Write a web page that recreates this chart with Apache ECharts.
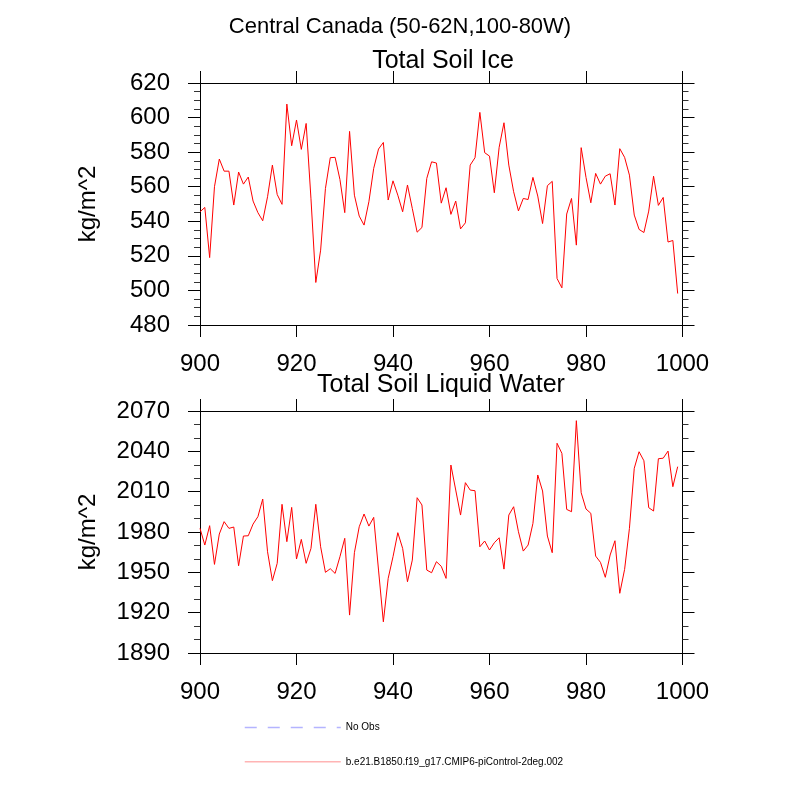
<!DOCTYPE html>
<html>
<head>
<meta charset="utf-8">
<script src="https://cdn.jsdelivr.net/npm/echarts@6/dist/echarts.min.js"></script>
<style>
  html, body { margin: 0; padding: 0; background: #fff; }
  #chart { width: 800px; height: 800px; }
</style>
</head>
<body>
<div id="chart"></div>
<script>
// years 900..999, one value per year
var years = [];
for (var y = 900; y <= 999; y++) years.push(y);

var soilIce = [
  545.5, 548, 519, 560, 576, 569, 569, 549.4, 568.5, 561.5,
  565.6, 551.7, 545, 540.3, 554.2, 572.5, 555.5, 549.8, 607.8, 583.7,
  598.6, 581.6, 596.6, 553, 504.6, 523.3, 559, 576.8, 577, 564.2,
  545, 592, 555.1, 543, 537.8, 551.3, 570.6, 581.8, 585.6, 552.3,
  563.4, 555.1, 545.5, 561, 547.4, 533.7, 536.4, 564.8, 574.4, 573.7,
  550.5, 559.4, 544, 551.7, 535.6, 539.1, 572.5, 576.8, 603, 579.7,
  577.7, 556.5, 582.8, 597, 572.5, 557.1, 546, 553.2, 552.6, 565.4,
  554.6, 538.7, 560.6, 563.1, 506.9, 501.5, 544.2, 553.2, 526.2, 582.6,
  565.4, 550.7, 567.7, 561.5, 566.1, 567.5, 549.4, 582, 577, 566.7,
  543.6, 535.3, 533.5, 545.9, 566.1, 549.2, 553.8, 528, 528.9, 498.2
];

var soilLiquid = [
  1982.7, 1970.3, 1984.7, 1955.9, 1978.5, 1987.7, 1982.7, 1983.7, 1954.9, 1977,
  1977.2, 1985.9, 1991.4, 2004.5, 1965.3, 1943.8, 1956.7, 2000.6, 1972.8, 1998.3,
  1959.9, 1974.5, 1956.7, 1967.8, 2000.6, 1969, 1950, 1952.7, 1949.2, 1961.6,
  1975.3, 1918.2, 1964.6, 1983.9, 1993.4, 1984.4, 1990.9, 1951.7, 1913.2, 1945.5,
  1961.6, 1979.5, 1967.8, 1943, 1959.1, 2005.5, 2000.1, 1951.7, 1949.7, 1957.9,
  1954.5, 1945.5, 2029.8, 2011.2, 1992.6, 2016.7, 2011.2, 2010.7, 1969, 1973.3,
  1966.6, 1972, 1975.7, 1952.4, 1992.6, 1998.8, 1980.2, 1965.8, 1970.3, 1986.4,
  2022.4, 2010.5, 1977, 1964.6, 2046, 2038.5, 1996.8, 1995.1, 2062.8, 2009.2,
  1997.1, 1993.9, 1962.1, 1957.4, 1946.3, 1962.9, 1973.5, 1934.4, 1952.2, 1982.7,
  2027.4, 2039.7, 2033, 1998.1, 1995.6, 2034.5, 2034.9, 2040.2, 2013.7, 2028.6
];

var xTicks = { min: 900, max: 1000, interval: 20 };
var iceTicks = { min: 480, max: 620, interval: 20, minor: 4 };
var liqTicks = { min: 1890, max: 2070, interval: 30, minor: 3 };

var caseName = 'b.e21.B1850.f19_g17.CMIP6-piControl-2deg.002';
var font = 'Liberation Sans';

function pairs(vals) {
  return years.map(function (yr, i) { return [yr, vals[i]]; });
}

function plain(v) { return String(v); }

function xAxis(grid, pos, showLabel) {
  return {
    type: 'value', gridIndex: grid, position: pos,
    min: xTicks.min, max: xTicks.max, interval: xTicks.interval,
    axisLine: { show: true, onZero: false, lineStyle: { color: '#000', width: 1 } },
    axisTick: { show: true, length: 12, lineStyle: { color: '#000' } },
    axisLabel: { show: showLabel, fontSize: 24, margin: 27, color: '#000', fontFamily: font, formatter: plain },
    splitLine: { show: false }
  };
}

function yAxis(grid, pos, t, showLabel) {
  var a = {
    type: 'value', gridIndex: grid, position: pos,
    min: t.min, max: t.max, interval: t.interval,
    axisLine: { show: true, onZero: false, lineStyle: { color: '#000', width: 1 } },
    axisTick: { show: true, length: 12, lineStyle: { color: '#000' } },
    minorTick: { show: true, splitNumber: t.minor, length: 6, lineStyle: { color: '#333' } },
    axisLabel: { show: showLabel, fontSize: 24, margin: 30, color: '#000', fontFamily: font, formatter: plain },
    splitLine: { show: false },
    minorSplitLine: { show: false }
  };
  if (showLabel) {
    a.name = 'kg/m^2';
    a.nameLocation = 'middle';
    a.nameGap = 100;
    a.nameTextStyle = { fontSize: 24, color: '#000', fontFamily: font };
  }
  return a;
}

var chart = echarts.init(document.getElementById('chart'));
chart.setOption({
  backgroundColor: '#fff',
  animation: false,
  title: [
    { text: 'Central Canada (50-62N,100-80W)', left: 400, textAlign: 'center', top: 16, padding: 0,
      textStyle: { fontSize: 22, fontWeight: 'normal', color: '#000', fontFamily: font } },
    { text: 'Total Soil Ice', left: 443, textAlign: 'center', top: 49, padding: 0,
      textStyle: { fontSize: 25, fontWeight: 'normal', color: '#000', fontFamily: font } },
    { text: 'Total Soil Liquid Water', left: 441, textAlign: 'center', top: 373, padding: 0,
      textStyle: { fontSize: 25, fontWeight: 'normal', color: '#000', fontFamily: font } }
  ],
  legend: {
    orient: 'vertical', left: 244, top: 722, padding: 0,
    itemWidth: 96, itemHeight: 14, itemGap: 23,
    textStyle: { fontSize: 10, color: '#000', fontFamily: font },
    data: [
      { name: 'No Obs', itemStyle: { opacity: 0 },
        lineStyle: { color: '#b4b4ff', type: [12, 11], width: 1.5 } },
      { name: caseName, itemStyle: { opacity: 0 },
        lineStyle: { color: '#ffb4b4', width: 1.5 } }
    ]
  },
  grid: [
    { left: 200, top: 83, width: 482.5, height: 242 },
    { left: 200, top: 411, width: 482.5, height: 242 }
  ],
  xAxis: [
    xAxis(0, 'bottom', true), xAxis(0, 'top', false),
    xAxis(1, 'bottom', true), xAxis(1, 'top', false)
  ],
  yAxis: [
    yAxis(0, 'left', iceTicks, true), yAxis(0, 'right', iceTicks, false),
    yAxis(1, 'left', liqTicks, true), yAxis(1, 'right', liqTicks, false)
  ],
  series: [
    { name: caseName, type: 'line', xAxisIndex: 0, yAxisIndex: 0, data: pairs(soilIce),
      symbol: 'none', color: '#ff0000', lineStyle: { color: '#ff0000', width: 1 } },
    { name: caseName, type: 'line', xAxisIndex: 2, yAxisIndex: 2, data: pairs(soilLiquid),
      symbol: 'none', color: '#ff0000', lineStyle: { color: '#ff0000', width: 1 } },
    { name: 'No Obs', type: 'line', xAxisIndex: 2, yAxisIndex: 2, data: [],
      symbol: 'none', color: '#b4b4ff', lineStyle: { color: '#b4b4ff', type: [12, 11], width: 1 } }
  ]
});
</script>
</body>
</html>
